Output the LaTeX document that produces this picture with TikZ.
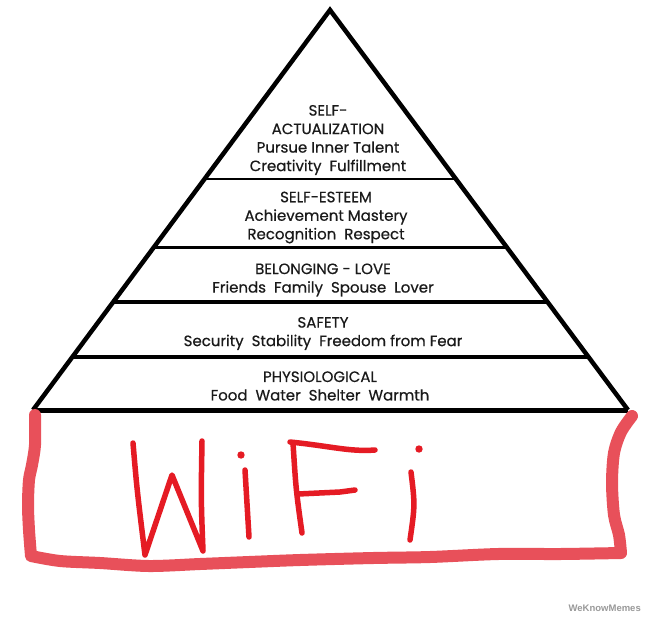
\documentclass[tikz,border=0pt]{standalone}
\usepackage{fontspec}
\usetikzlibrary{calc}
\newfontfamily\pyrfont{Poppins}[FakeBold=0.5]
\newfontfamily\wmfont{Liberation Sans}
\definecolor{boxred}{HTML}{E8505A}
\definecolor{penred}{HTML}{E51B24}
\definecolor{txt}{HTML}{1A1A1A}
\begin{document}
\begin{tikzpicture}[x=1pt,y=-1pt,
  edge/.style={line width=4.5pt,line join=miter,black},
  tier/.style={line width=3pt,black},
  label/.style={font=\pyrfont\fontsize{15}{18.5}\selectfont,text=txt,align=center,inner sep=0pt},
  redbox/.style={line width=12pt,boxred,line cap=round,line join=round},
  pen/.style={line width=5.5pt,penred,line cap=round,line join=round}]
\useasboundingbox[fill=white] (0,0) rectangle (650,616);
% pyramid
\coordinate (apex) at (330,10);
\coordinate (bl) at (33,410);
\coordinate (br) at (628,410);
\draw[edge] (bl) -- (apex) -- (br);
\draw[line width=5pt] (bl) -- (br);
\coordinate (a1) at ($(apex)!0.4225!(bl)$); \coordinate (b1) at ($(apex)!0.4225!(br)$);
\coordinate (a2) at ($(apex)!0.5925!(bl)$); \coordinate (b2) at ($(apex)!0.5925!(br)$);
\coordinate (a3) at ($(apex)!0.73!(bl)$);   \coordinate (b3) at ($(apex)!0.73!(br)$);
\coordinate (a4) at ($(apex)!0.8675!(bl)$); \coordinate (b4) at ($(apex)!0.8675!(br)$);
\draw[line width=2.5pt] (a1) -- (b1);
\draw[tier] (a2) -- (b2);
\draw[line width=3.5pt] (a3) -- (b3);
\draw[line width=3.5pt] (a4) -- (b4);
% labels
\node[label] (t1) at (328,140) {SELF-\\ACTUALIZATION\\Pursue Inner Talent\\Creativity\ \ Fulfillment};
\node[label] (t2) at (326,217.5) {SELF-ESTEEM\\Achievement Mastery\\Recognition\ \ Respect};
\node[label] (t3) at (323,280) {BELONGING - LOVE\\Friends\ \ Family\ \ Spouse\ \ Lover};
\node[label] (t4) at (323,333.5) {SAFETY\\Security\ \ Stability\ \ Freedom from Fear};
\node[label] (t5) at (320,386) {PHYSIOLOGICAL\\Food\ \ Water\ \ Shelter\ \ Warmth};
% red hand-drawn box
\draw[redbox] plot[smooth,tension=0.5] coordinates {(35,415) (35,445) (32,465) (29,480) (28,505) (29,530) (31,556)}
  -- plot[smooth,tension=0.5] coordinates {(31,556) (60,561) (100,563) (149,566) (200,564) (249,562) (300,560) (373,558) (430,557) (498,554) (560,554) (621,553)}
  -- plot[smooth,tension=0.5] coordinates {(621,553) (619,535) (614,515) (612,483) (614,453) (621,432) (632,416)};
% WiFi
\draw[pen] (133,443) .. controls (137,490) .. (145,555) -- (172,475) -- (203,551) .. controls (201,500) .. (202,441);
\fill[penred] (241,455) circle (3.7);
\draw[pen] (245,470) -- (249,537);
\draw[pen] (293,443) .. controls (296,490) .. (302,533);
\draw[pen] (290,442) .. controls (330,446) and (350,452) .. (375,450);
\draw[pen] (298,494) -- (340,492) -- (355,490);
\fill[penred] (419,449) circle (3.7);
\draw[pen] (411,472) .. controls (415,505) .. (410,540);
% watermark
\node[font=\wmfont\bfseries\fontsize{9.5}{11}\selectfont,text=black!40,anchor=east,inner sep=0pt] (wm) at (641,608) {WeKnowMemes};
\end{tikzpicture}
\end{document}
